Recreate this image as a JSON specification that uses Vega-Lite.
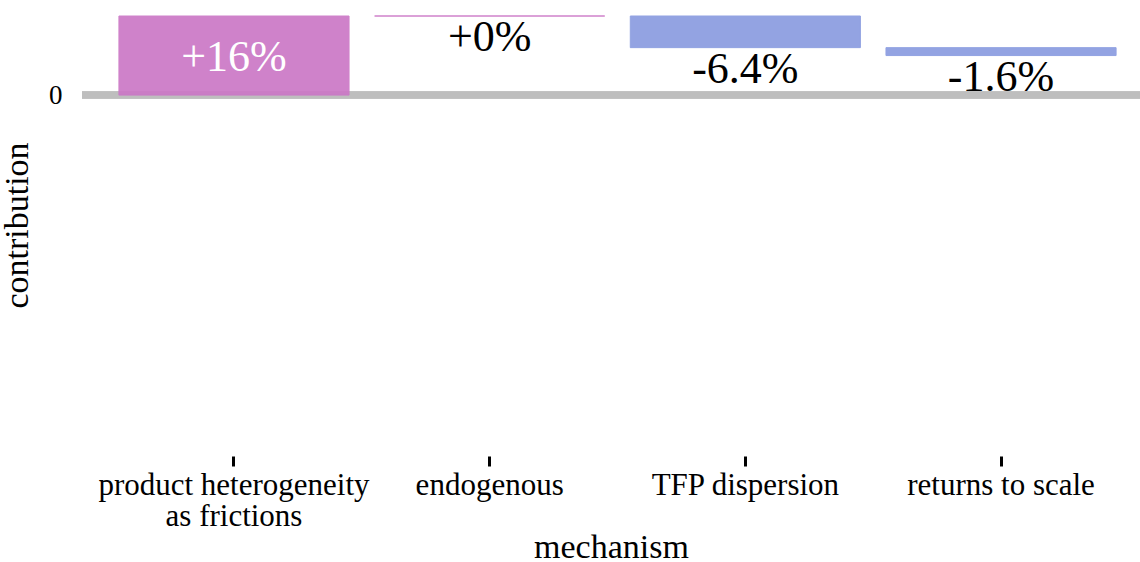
{
  "$schema": "https://vega.github.io/schema/vega-lite/v6.json",
  "autosize": "none",
  "width": 1058,
  "height": 440,
  "padding": {"left": 82, "top": 16, "right": 0, "bottom": 106},
  "background": "white",
  "config": {
    "view": {"stroke": null},
    "font": "Liberation Serif",
    "text": {"font": "Liberation Serif"}
  },
  "data": {
    "values": [
      {"mechanism": "product heterogeneity as frictions", "start": 0, "end": 16, "label": "+16%", "direction": "positive", "inside": true},
      {"mechanism": "endogenous", "start": 16, "end": 16, "label": "+0%", "direction": "positive", "inside": false},
      {"mechanism": "TFP dispersion", "start": 16, "end": 9.6, "label": "-6.4%", "direction": "negative", "inside": false},
      {"mechanism": "returns to scale", "start": 9.6, "end": 8.0, "label": "-1.6%", "direction": "negative", "inside": false}
    ]
  },
  "encoding": {
    "x": {
      "field": "mechanism",
      "type": "nominal",
      "sort": null,
      "scale": {"paddingInner": 0.1, "paddingOuter": 0.119, "align": 0.607},
      "axis": {
        "title": "mechanism",
        "titleFont": "Liberation Serif",
        "titleFontSize": 34,
        "titleFontWeight": "normal",
        "titleColor": "black",
        "titleBaseline": "alphabetic",
        "titleY": 101,
        "labelFont": "Liberation Serif",
        "labelFontSize": 31,
        "labelColor": "black",
        "labelAngle": 0,
        "labelPadding": 4,
        "labelLimit": 0,
        "labelLineHeight": 31,
        "labelExpr": "datum.label == 'product heterogeneity as frictions' ? ['product heterogeneity', 'as frictions'] : datum.label",
        "domain": false,
        "ticks": true,
        "tickColor": "black",
        "tickWidth": 3,
        "tickSize": 10,
        "offset": 0
      }
    }
  },
  "layer": [
    {
      "mark": {"type": "rule", "color": "#bebebe", "strokeWidth": 7},
      "encoding": {
        "y": {"datum": 0, "type": "quantitative"},
        "x": null
      }
    },
    {
      "mark": {"type": "bar", "opacity": 0.92, "strokeWidth": 1, "strokeOpacity": 1},
      "encoding": {
        "y": {
          "field": "start",
          "type": "quantitative",
          "scale": {"domain": [-73, 16], "nice": false, "zero": false},
          "axis": {
            "title": "contribution",
            "titleFont": "Liberation Serif",
            "titleFontSize": 34,
            "titleFontWeight": "normal",
            "titleColor": "black",
            "titlePadding": 14,
            "titleY": 209,
            "titleAlign": "center",
            "values": [0],
            "labelFont": "Liberation Serif",
            "labelFontSize": 27,
            "labelColor": "black",
            "labelPadding": 20,
            "ticks": false,
            "domain": false,
            "grid": false
          }
        },
        "y2": {"field": "end"},
        "color": {
          "field": "direction",
          "type": "nominal",
          "scale": {"domain": ["positive", "negative"], "range": ["#cc78c6", "#8a9ce0"]},
          "legend": null
        },
        "stroke": {
          "field": "direction",
          "type": "nominal",
          "scale": {"domain": ["positive", "negative"], "range": ["#cc78c6", "#8a9ce0"]},
          "legend": null
        }
      }
    },
    {
      "transform": [{"filter": "datum.inside"}],
      "mark": {"type": "text", "font": "Liberation Serif", "color": "white", "fontSize": 44, "baseline": "middle", "dy": 42},
      "encoding": {
        "y": {"field": "end", "type": "quantitative"},
        "text": {"field": "label"}
      }
    },
    {
      "transform": [{"filter": "!datum.inside"}],
      "mark": {"type": "text", "font": "Liberation Serif", "color": "black", "fontSize": 44, "baseline": "middle", "dy": 22},
      "encoding": {
        "y": {"field": "end", "type": "quantitative"},
        "text": {"field": "label"}
      }
    }
  ]
}
